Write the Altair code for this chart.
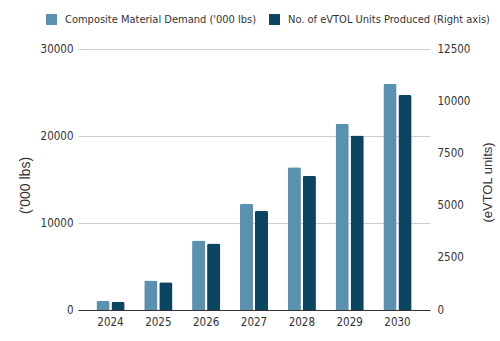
import altair as alt
import pandas as pd

years = ["2024", "2025", "2026", "2027", "2028", "2029", "2030"]
demand = [1070, 3400, 7980, 12200, 16400, 21400, 26000]
units = [400, 1330, 3180, 4750, 6430, 8360, 10300]
series = ["Composite Material Demand ('000 lbs)", "No. of eVTOL Units Produced (Right axis)"]
colors = ["#5b90af", "#0c4562"]

df1 = pd.DataFrame({"year": years, "value": demand, "series": series[0]})
df2 = pd.DataFrame({"year": years, "value": units, "series": series[1]})

FONT = "'Liberation Sans Narrow', 'Noto Sans Condensed', 'DejaVu Sans Condensed', sans-serif"
TFONT = "'Liberation Sans', Arial, sans-serif"
TXT = "#333333"
FS = 11.5

x = alt.X(
    "year:N",
    title=None,
    scale=alt.Scale(paddingInner=0.41, paddingOuter=0.385),
    axis=alt.Axis(labelAngle=0, ticks=False, domainColor="#333333", labelPadding=6,
                  labelFontSize=FS, labelFont=FONT, labelColor=TXT, zindex=1),
)
xo = alt.XOffset("series:N", scale=alt.Scale(domain=series, paddingInner=0.12))
color = alt.Color(
    "series:N",
    scale=alt.Scale(domain=series, range=colors),
    legend=alt.Legend(orient="none", legendX=-32, legendY=-35, direction="horizontal",
                      title=None, symbolType="square", symbolSize=120, labelFontSize=11,
                      labelFont=FONT, columnPadding=12, labelOffset=8, labelColor=TXT,
                      symbolStrokeWidth=0, labelLimit=400),
)

left = alt.Chart(df1).mark_bar(cornerRadiusTopLeft=2, cornerRadiusTopRight=2).encode(
    x=x,
    xOffset=xo,
    color=color,
    y=alt.Y(
        "value:Q",
        scale=alt.Scale(domain=[0, 30000], nice=False),
        axis=alt.Axis(values=[0, 10000, 20000, 30000], title="('000 lbs)", domain=False,
                      ticks=False, labelPadding=5, gridColor="#cccccc", format="d",
                      labelFontSize=FS, labelFont=FONT, labelColor=TXT,
                      titleFont=TFONT, titleFontSize=14, titleFontWeight="normal",
                      titleColor=TXT, titleX=-53, titleY=136, titleAngle=270,
                      titleAlign="center", titleBaseline="middle"),
    ),
)

right = alt.Chart(df2).mark_bar(cornerRadiusTopLeft=2, cornerRadiusTopRight=2).encode(
    x=x,
    xOffset=xo,
    color=color,
    y=alt.Y(
        "value:Q",
        scale=alt.Scale(domain=[0, 12500], nice=False),
        axis=alt.Axis(orient="right", values=[0, 2500, 5000, 7500, 10000, 12500],
                      title="(eVTOL units)", domain=False, ticks=False, grid=False,
                      labelPadding=7, format="d",
                      labelFontSize=FS, labelFont=FONT, labelColor=TXT,
                      titleFont=TFONT, titleFontSize=13, titleFontWeight="normal",
                      titleColor=TXT, titleX=57, titleY=133, titleAngle=270,
                      titleAlign="center", titleBaseline="middle"),
    ),
)

chart = (
    alt.layer(left, right)
    .resolve_scale(y="independent")
    .properties(
        width=352,
        height=261,
        autosize=alt.AutoSizeParams(type="none"),
        padding={"left": 78, "top": 49, "right": 70, "bottom": 31},
        background="white",
    )
    .configure_view(stroke=None)
)

chart.save("out.html", embed_options={"renderer": "svg", "actions": False})
